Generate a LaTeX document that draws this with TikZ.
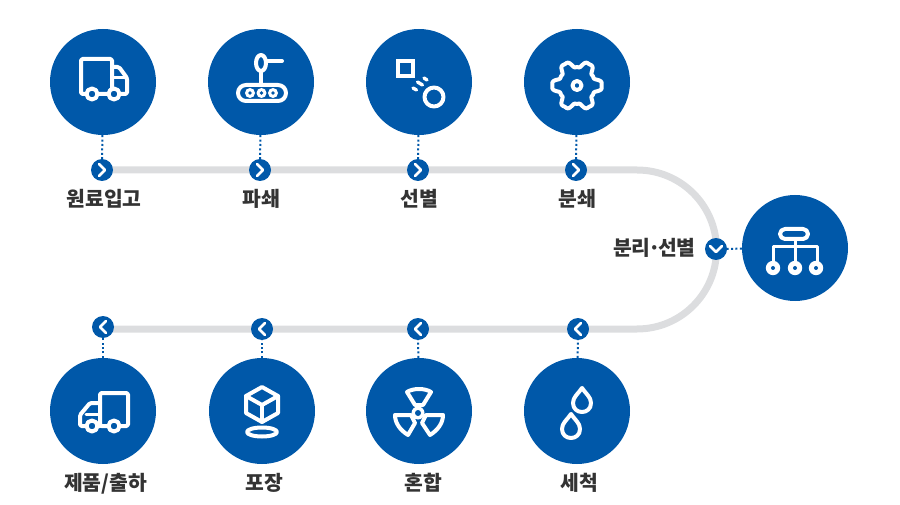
\documentclass[tikz,border=0pt]{standalone}
\usepackage{fontspec}
\newfontfamily\krfont{Noto Sans CJK KR}
\usepackage{tikz}
\usetikzlibrary{positioning,backgrounds}
\usepackage{xcolor}
\definecolor{StepBlue}{HTML}{0058A9}
\definecolor{TrackGray}{HTML}{DCDDDF}
\definecolor{LabelGray}{HTML}{333333}

\begin{document}
\begin{tikzpicture}[
	x=1pt, y=-1pt,
	stepnode/.style={circle, fill=StepBlue, minimum size=106pt, inner sep=0pt},
	marknode/.style={circle, fill=StepBlue, minimum size=22pt, inner sep=0pt},
	markright/.style={marknode, path picture={\draw[markline] (path picture bounding box.center) ++(-3,-6) -- ++(6,6) -- ++(-6,6);}},
	markleft/.style={marknode, path picture={\draw[markline] (path picture bounding box.center) ++(3,-6) -- ++(-6,6) -- ++(6,6);}},
	markdown/.style={marknode, path picture={\draw[markline] (path picture bounding box.center) ++(-6,-3) -- ++(6,6) -- ++(6,-6);}},
	markline/.style={white, line width=2.6pt, line cap=round, line join=round},
	steplabel/.style={font=\krfont\bfseries\fontsize{20.4}{22}\selectfont, text=LabelGray, inner sep=0pt,
		text height=15pt, text depth=3pt},
	track/.style={TrackGray, line width=7pt},
	dotline/.style={StepBlue, line width=2pt, dash pattern=on 2pt off 2.4pt},
	icon/.style={draw=white, line width=4pt, line join=round, line cap=round}
	]
	\useasboundingbox (0,0) rectangle (900,505);

	% steps
	\node[stepnode] (s1) at (103,82) {};
	\node[stepnode] (s2) at (261,82) {};
	\node[stepnode] (s3) at (419,82) {};
	\node[stepnode] (s4) at (577,82) {};
	\node[stepnode] (s5) at (795,248) {};
	\node[stepnode] (s6) at (577,411) {};
	\node[stepnode] (s7) at (419,411) {};
	\node[stepnode] (s8) at (262,411) {};
	\node[stepnode] (s9) at (103,411) {};

	% marks on the track
	\node[markright] (m1) at (102,170) {};
	\node[markright] (m2) at (260,170) {};
	\node[markright] (m3) at (418,170) {};
	\node[markright] (m4) at (576,170) {};
	\node[markdown] (m5) at (716,249) {};
	\node[markleft] (m6) at (578,329) {};
	\node[markleft] (m7) at (418,329) {};
	\node[markleft] (m8) at (262,329) {};
	\node[markleft] (m9) at (103,327) {};

	% labels
	\node[steplabel, below=10.5pt of m1, xshift=2pt] (l1) {원료입고};
	\node[steplabel, below=10.5pt of m2, xshift=1.5pt] (l2) {파쇄};
	\node[steplabel, below=10.5pt of m3, xshift=1.5pt] (l3) {선별};
	\node[steplabel, below=10.5pt of m4, xshift=1.5pt] (l4) {분쇄};
	\node[steplabel, left=9pt of m5] (l5) {분리\kern-2.5pt·\kern-2.5pt선별};
	\node[steplabel, below=11pt of s6, xshift=2pt] (l6) {세척};
	\node[steplabel, below=11pt of s7, xshift=4pt] (l7) {혼합};
	\node[steplabel, below=11pt of s8, xshift=2pt] (l8) {포장};
	\node[steplabel, below=11pt of s9, xshift=2.5pt] (l9) {제품/출하};

	% track and dotted links
	\coordinate (t1) at (637,170);
	\coordinate (t2) at (637,329);
	\coordinate (t3) at (110,329);
	\begin{scope}[on background layer]
		\draw[track] (m1.center) -- (t1) .. controls (681,170) and (716.5,205.5) .. (716.5,249.5)
			.. controls (716.5,293.5) and (681,329) .. (t2) -- (t3);
	\end{scope}
	\draw[dotline] (s1) -- (m1);
	\draw[dotline] (s2) -- (m2);
	\draw[dotline] (s3) -- (m3);
	\draw[dotline] (s4) -- (m4);
	\draw[dotline] (s5) -- (m5);
	\draw[dotline] (s6) -- (m6);
	\draw[dotline] (s7) -- (m7);
	\draw[dotline] (s8) -- (m8);
	\draw[dotline] (s9) -- (m9);

	% truck
	\draw[icon, rounded corners=1.5pt] (81,59) rectangle (112,94);
	\draw[icon, rounded corners=1.5pt] (112,67) -- (119,67) -- (127,78) -- (127,94) -- (112,94);
	\draw[icon, line width=3pt] (113,78) -- (127,78);
	\draw[icon, fill=StepBlue] (92,94) circle (5.5);
	\draw[icon, fill=StepBlue] (114,94) circle (5.5);

	% conveyor
	\draw[icon, rounded corners=8pt] (238,85) rectangle (286,101);
	\fill[white] (250,93) circle (5) (261.5,93) circle (5) (273,93) circle (5);
	\fill[StepBlue] (250,93) circle (1.8) (261.5,93) circle (1.8) (273,93) circle (1.8);
	\draw[icon] (261,63) ellipse (5 and 8);
	\draw[icon] (261,72) -- (261,84);
	\draw[icon] (266,61) -- (282,61);

	% sorting
	\draw[icon, line join=miter] (398,61) rectangle (413,76);
	\draw[icon, line width=3.4pt] (424,78) -- (427,80);
	\draw[icon, line width=3.4pt] (417.5,82) -- (422.5,85);
	\draw[icon, line width=3.4pt] (413,88) -- (416.5,90);
	\draw[icon] (434,97) circle (9.5);

	% gear
	\draw[icon, smooth, samples=145, domain=0:360] plot ({577+(21.5+3.8*(cos(6*\x)-0.2*cos(18*\x)))*cos(\x)}, {85.5+(21.5+3.8*(cos(6*\x)-0.2*cos(18*\x)))*sin(\x)});
	\draw[icon] (577,85.5) circle (4.5);

	% hierarchy
	\draw[icon, rounded corners=5pt] (780,229) rectangle (808,239);
	\draw[icon, line width=3pt] (795,239) -- (795,262);
	\draw[icon, line width=3pt] (773,262) -- (773,247) -- (817,247) -- (817,262);
	\fill[white] (773,268) circle (7.2) (795,268) circle (7.2) (816,268) circle (7.2);
	\fill[StepBlue] (773,268) circle (2) (795,268) circle (2) (816,268) circle (2);

	% drops
	\draw[icon] (582,388) .. controls (586,394) and (591,397) .. (591,403) .. controls (591,415) and (573,415) .. (573,403) .. controls (573,397) and (578,394) .. (582,388) -- cycle;
	\draw[icon] (571,414) .. controls (575,420) and (580,423) .. (580,429) .. controls (580,441) and (562,441) .. (562,429) .. controls (562,423) and (567,420) .. (571,414) -- cycle;

	% fan
	\draw[icon] (415,405) -- (407,392) .. controls (413,388) and (425,388) .. (431,392) -- (423,405) -- cycle;
	\draw[icon] (411,415) -- (395,415) .. controls (395,423) and (400,430) .. (408,435) -- (415,423) -- cycle;
	\draw[icon] (426,415) -- (443,415) .. controls (443,423) and (438,430) .. (430,435) -- (422,423) -- cycle;
	\fill[white] (418,413) circle (6.5);
	\fill[StepBlue] (418,413) circle (3);

	% box on a plate
	\draw[icon] (262,387) -- (278,396) -- (278,413) -- (262,422) -- (246,413) -- (246,396) -- cycle;
	\draw[icon] (246,396) -- (262,405) -- (278,396);
	\draw[icon] (262,405) -- (262,422);
	\draw[icon] (262,432) ellipse (15 and 4.5);

	% delivery truck
	\draw[icon, rounded corners=1.5pt] (100,426) rectangle (128,393);
	\draw[icon, rounded corners=1.5pt] (100,403) -- (90,403) -- (80,415) -- (80,426) -- (100,426);
	\draw[icon, line width=3pt] (86,414) -- (100,414);
	\draw[icon, fill=StepBlue] (92,426) circle (5.5);
	\draw[icon, fill=StepBlue] (114,426) circle (5.5);
\end{tikzpicture}
\end{document}
